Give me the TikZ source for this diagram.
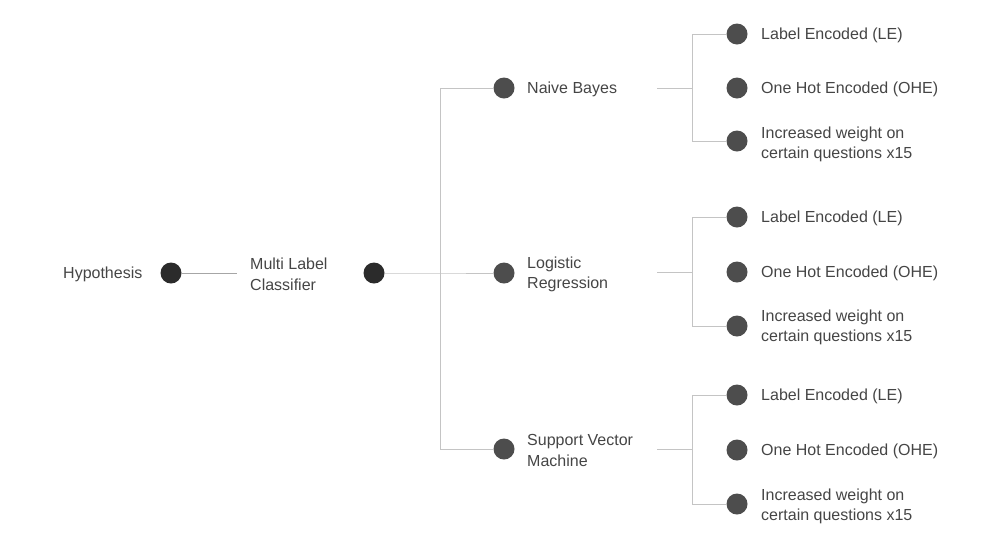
\documentclass[tikz,border=0pt]{standalone}
\usepackage{fontspec}
\setmainfont{Liberation Sans}
\definecolor{dotdark}{HTML}{2B2B2B}
\definecolor{dotgray}{HTML}{4D4D4D}
\definecolor{linegray}{HTML}{C4C4C4}
\definecolor{txt}{HTML}{454545}
\begin{document}
\begin{tikzpicture}[x=1pt,y=-1pt,
  dot/.style={circle,fill=dotgray,minimum size=21pt,inner sep=0pt},
  ddot/.style={circle,fill=dotdark,minimum size=21pt,inner sep=0pt},
  lab/.style={anchor=west,inner sep=0pt,text=txt,font=\fontsize{16pt}{20.5pt}\selectfont,align=left,yshift=-1.5pt},
  conn/.style={draw=linegray,line width=1pt}]
\useasboundingbox (0,0) rectangle (984,542);
% root
\node[lab] (hyp) at (63,273) {Hypothesis};
\node[ddot] (d0) at (171,273) {};
\node[lab] (mlc) at (250,273) {Multi Label\\Classifier};
\node[ddot] (d1) at (374,273) {};
\coordinate (e0) at (237,273);
\coordinate (s0) at (440,273);
% level 2
\node[dot] (nb) at (504,88) {};
\node[dot] (lr) at (504,273) {};
\node[dot] (sv) at (504,449) {};
\node[lab] (tnb) at (527,88) {Naive Bayes};
\node[lab] (tlr) at (527,273) {Logistic\\Regression};
\node[lab] (tsv) at (527,449) {Support Vector\\Machine};
\coordinate (nbv) at (440,88);
\coordinate (svv) at (440,449);
% connectors level 0-2
\draw[draw=gray!70,line width=1pt] (d0) -- (e0);
\draw[conn] (d1) -- (s0) -- (lr);
\draw[conn] (nb) -- (nbv) -- (svv) -- (sv);
% leaves
\foreach \g/\y/\a/\b/\c/\t in {n/88/34/88/141/143, l/272/217/272/326/326, s/449/395/450/504/505}{
  \coordinate (\g s) at (657,\y);
  \coordinate (\g m) at (692,\y);
  \coordinate (\g t) at (692,\a);
  \coordinate (\g b) at (692,\c);
  \node[dot] (\g 1) at (737,\a) {};
  \node[dot] (\g 2) at (737,\b) {};
  \node[dot] (\g 3) at (737,\c) {};
  \node[lab] (\g L1) at (761,\a) {Label Encoded (LE)};
  \node[lab] (\g L2) at (761,\b) {One Hot Encoded (OHE)};
  \node[lab] (\g L3) at (761,\t) {Increased weight on\\certain questions x15};
  \draw[conn] (\g s) -- (\g m);
  \draw[conn] (\g 1) -- (\g t) -- (\g b) -- (\g 3);
}
\end{tikzpicture}
\end{document}
